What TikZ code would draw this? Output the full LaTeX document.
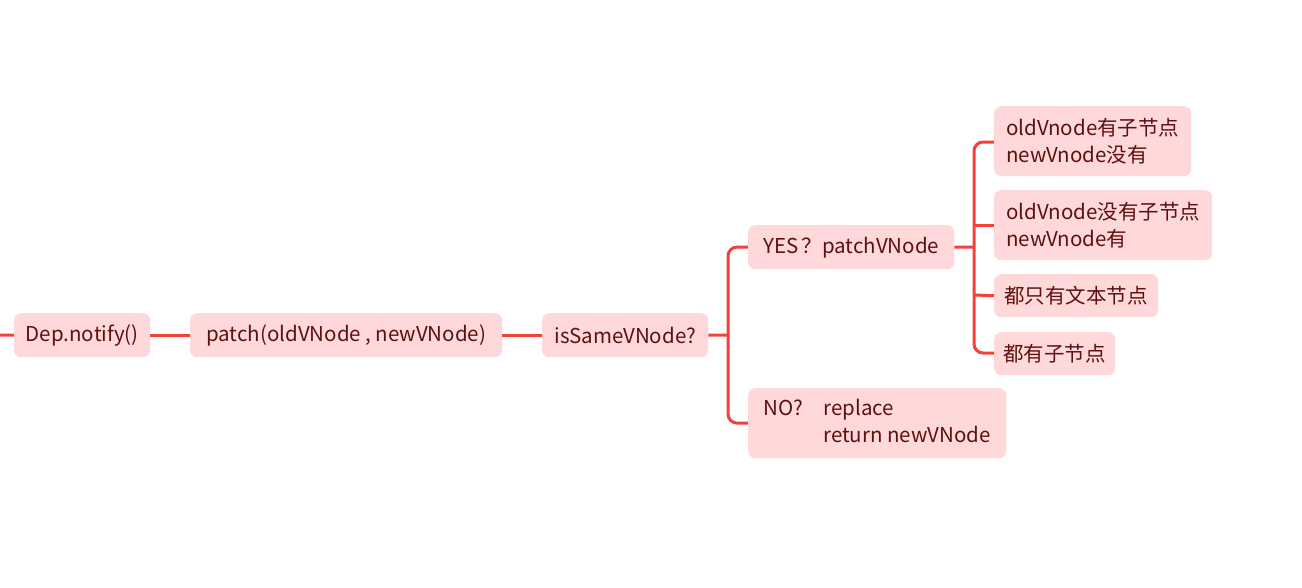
\documentclass[tikz,border=0pt]{standalone}
\usepackage{fontspec}
\setmainfont{Noto Sans CJK SC}
\begin{document}
\begin{tikzpicture}[x=1pt,y=-1pt,
  box/.style={fill=boxfill,rounded corners=7pt,text=txt,inner sep=0pt,anchor=north west,font=\fontsize{20.5}{27}\selectfont},
  link/.style={draw=linkc,line width=3pt,rounded corners=9pt}]
\definecolor{boxfill}{HTML}{FFD9D9}
\definecolor{txt}{HTML}{5E1010}
\definecolor{linkc}{HTML}{F5413C}
\useasboundingbox (0,0) rectangle (1302,587);
\node[box,minimum width=136pt,minimum height=44pt] (dep) at (14,313) {Dep.notify()};
\node[box,minimum width=312pt,minimum height=44pt] (patch) at (190,313) {patch(oldVNode , newVNode)};
\node[box,minimum width=166pt,minimum height=44pt] (same) at (542,313) {isSameVNode?};
\node[box,minimum width=206pt,minimum height=44pt] (yes) at (748,225) {YES\,？patchVNode};
\node[box,minimum width=258pt,minimum height=70pt] (no) at (748,388) {\begin{tabular}{@{}l@{\hspace{20pt}}l@{}}NO? & replace\\ & return newVNode\end{tabular}};
\node[box,minimum width=197pt,minimum height=70pt,align=left] (c1) at (994,106) {oldVnode有子节点\\newVnode没有};
\node[box,minimum width=218pt,minimum height=70pt,align=left] (c2) at (994,190) {oldVnode没有子节点\\newVnode有};
\node[box,minimum width=164pt,minimum height=43pt] (c3) at (994,274) {都只有文本节点};
\node[box,minimum width=121pt,minimum height=43pt] (c4) at (994,332) {都有子节点};
\coordinate (start) at (0,335);
\draw[link] (start) -- (dep.west);
\draw[link] (dep.east) -- (patch.west);
\draw[link] (patch.east) -- (same.west);
\draw[link] (same.east) -- (728,335);
\draw[link] (yes.west) -- (728,247) -- (728,423) -- (no.west);
\draw[link] (yes.east) -- (974,247);
\draw[link] (c1.west |- 0,142) -- (974,142) -- (974,353) -- (c4.west |- 0,353);
\draw[link] (974,225) -- (c2.west |- 0,225);
\draw[link] (974,295) -- (c3.west);
\end{tikzpicture}
\end{document}
